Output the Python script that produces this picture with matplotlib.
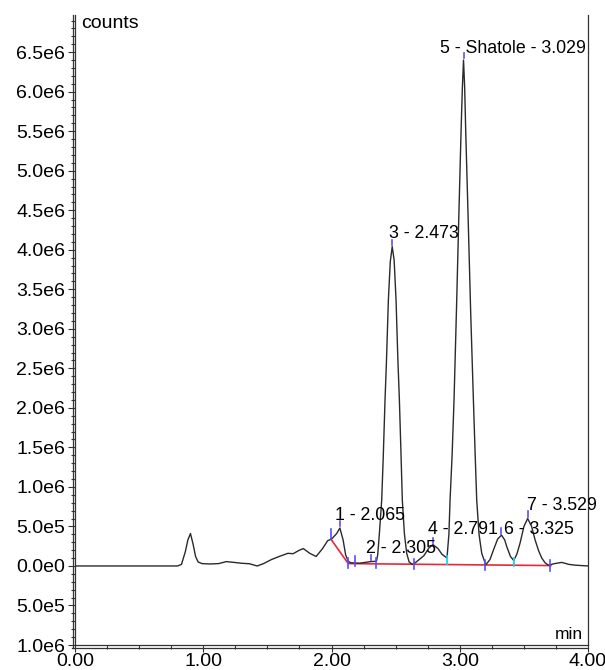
import numpy as np
import matplotlib
matplotlib.use("Agg")
import matplotlib.pyplot as plt
from matplotlib.ticker import MultipleLocator, FuncFormatter
from matplotlib.transforms import offset_copy
from matplotlib.lines import Line2D

plt.rcParams["font.family"] = ["Liberation Sans", "DejaVu Sans"]

# -----------------------------
# Chromatogram trace (min, counts)
# -----------------------------
time = [
    0.00, 0.50, 0.80, 0.83, 0.86, 0.88, 0.90, 0.92, 0.94, 0.96, 0.99,
    1.05, 1.12, 1.18, 1.24, 1.30, 1.36, 1.42, 1.47, 1.53, 1.60, 1.66,
    1.70, 1.75, 1.78, 1.83, 1.88, 1.93, 1.97, 2.00, 2.04, 2.065, 2.09,
    2.11, 2.13, 2.15, 2.22, 2.305, 2.35,
    2.36, 2.373, 2.391, 2.403, 2.417, 2.428, 2.443, 2.458, 2.473, 2.488,
    2.503, 2.517, 2.529, 2.541, 2.552, 2.568, 2.586, 2.605, 2.63,
    2.66, 2.72, 2.76, 2.791, 2.83, 2.86, 2.90,
    2.915, 2.924, 2.94, 2.955, 2.975, 2.992, 3.010, 3.020, 3.029, 3.038,
    3.046, 3.065, 3.085, 3.106, 3.12, 3.132, 3.15, 3.171, 3.197, 3.20,
    3.235, 3.262, 3.295, 3.325, 3.35, 3.367, 3.395, 3.42, 3.445, 3.47,
    3.50, 3.529, 3.56, 3.587, 3.615, 3.639, 3.665, 3.69, 3.74, 3.795,
    3.85, 3.90, 4.00,
]
counts = [
    0.0, 0.0, 0.0, 0.02e6, 0.18e6, 0.33e6, 0.41e6, 0.28e6, 0.12e6, 0.05e6, 0.03e6,
    0.025e6, 0.03e6, 0.055e6, 0.045e6, 0.034e6, 0.028e6, 0.0, 0.03e6, 0.08e6, 0.125e6, 0.16e6,
    0.155e6, 0.20e6, 0.22e6, 0.16e6, 0.12e6, 0.22e6, 0.32e6, 0.34e6, 0.41e6, 0.48e6, 0.33e6,
    0.14e6, 0.06e6, 0.04e6, 0.035e6, 0.055e6, 0.06e6,
    0.14e6, 0.41e6, 0.83e6, 1.37e6, 2.10e6, 2.58e6, 3.36e6, 3.85e6, 4.04e6, 3.87e6,
    3.36e6, 2.62e6, 2.10e6, 1.45e6, 0.83e6, 0.41e6, 0.16e6, 0.05e6, 0.02e6,
    0.05e6, 0.13e6, 0.23e6, 0.27e6, 0.22e6, 0.15e6, 0.10e6,
    0.40e6, 0.83e6, 1.40e6, 2.10e6, 3.30e6, 4.40e6, 5.51e6, 6.05e6, 6.40e6, 6.05e6,
    5.51e6, 4.40e6, 3.20e6, 2.10e6, 1.40e6, 0.83e6, 0.40e6, 0.16e6, 0.04e6, 0.01e6,
    0.08e6, 0.20e6, 0.34e6, 0.39e6, 0.33e6, 0.24e6, 0.12e6, 0.07e6, 0.15e6, 0.29e6,
    0.50e6, 0.60e6, 0.50e6, 0.33e6, 0.19e6, 0.10e6, 0.04e6, 0.01e6, 0.03e6, 0.045e6,
    0.02e6, 0.01e6, 0.0,
]

# integration baseline (red)
base_t = [1.995, 2.13, 3.71]
base_c = [0.34e6, 0.03e6, 0.005e6]

# peak apexes and labels
peak_t = [2.065, 2.305, 2.473, 2.791, 3.029, 3.325, 3.529]
peak_c = [0.48e6, 0.055e6, 4.04e6, 0.27e6, 6.40e6, 0.39e6, 0.60e6]
peak_labels = ["1 - 2.065", "2 - 2.305", "3 - 2.473", "4 - 2.791",
               "5 - Shatole - 3.029", "6 - 3.325", "7 - 3.529"]

# peak boundary marks
bound_t = [1.995, 2.13, 2.18, 2.35, 2.64, 3.20, 3.70]
bound_c = [0.40e6, 0.03e6, 0.06e6, 0.03e6, 0.02e6, 0.01e6, 0.0]
drop_t = [2.90, 3.42]
drop_c = [0.04e6, 0.02e6]

# label offsets in points (dx, dy)
label_off = [(-3.5, 5.5), (-3, 6.5), (-2.5, 6.5), (-3.5, 7.5),
             (-17, 5), (2, 1), (-0.7, 6)]

# -----------------------------
# Plot
# -----------------------------
fig = plt.figure(figsize=(6.05, 6.7), dpi=100)
ax = fig.add_axes([0.124, 0.0373, 0.848, 0.9403])

ax.plot(time, counts, color="#2a2a2a", linewidth=1.0, zorder=3)
ax.plot(base_t, base_c, color="#e8283a", linewidth=1.2, zorder=2)

tick_col = "#5a4dff"
# boundary ticks straddle the trace
for t, c in zip(bound_t, bound_c):
    ax.plot([t, t], [c - 0.06e6, c + 0.07e6], color=tick_col, linewidth=1.2, zorder=4)
for t, c in zip(drop_t, drop_c):
    ax.plot([t, t], [c - 0.02e6, c + 0.08e6], color="#19d3e8", linewidth=1.3, zorder=4)
# apex ticks
for t, c in zip(peak_t, peak_c):
    ax.plot([t, t], [c + 0.02e6, c + 0.09e6], color=tick_col, linewidth=1.2, zorder=4)

for t, c, lab, (dx, dy) in zip(peak_t, peak_c, peak_labels, label_off):
    ax.annotate(lab, xy=(t, c), xytext=(dx, dy), textcoords="offset points",
                ha="left", va="baseline", fontsize=12.8, color="black",
                annotation_clip=False, zorder=5)

# -----------------------------
# Axes formatting
# -----------------------------
ax.set_xlim(0, 4)
ax.set_ylim(-1.0e6, 6.97e6)

ax.xaxis.set_major_locator(MultipleLocator(1.0))
ax.xaxis.set_minor_locator(MultipleLocator(0.25))
ax.xaxis.set_major_formatter(FuncFormatter(lambda v, p: f"{v:.2f}"))
ax.yaxis.set_major_locator(MultipleLocator(5e5))
ax.yaxis.set_minor_locator(MultipleLocator(1e5))


def sci_label(v, pos):
    v = abs(v)
    if v < 1:
        return "0.0e0"
    e = int(np.floor(np.log10(v) + 1e-9))
    return f"{v / 10 ** e:.1f}e{e}"


ax.yaxis.set_major_formatter(FuncFormatter(sci_label))

ax.tick_params(axis="both", which="major", labelsize=14, length=5, width=0.8,
               direction="out", color="#333333", pad=2)
ax.tick_params(axis="both", which="minor", length=3, width=0.8,
               direction="out", color="#333333")
ax.tick_params(axis="x", which="major", pad=1)

ax.spines["top"].set_visible(False)
for s in ["left", "bottom", "right"]:
    ax.spines[s].set_color("#333333")
    ax.spines[s].set_linewidth(0.9)

# second (outer) line of the double frame
tr_left = offset_copy(ax.transAxes, fig=fig, x=-2.5, y=0, units="dots")
tr_bot = offset_copy(ax.transAxes, fig=fig, x=0, y=-2.5, units="dots")
ax.add_line(Line2D([0, 0], [-0.004, 1], transform=tr_left, color="#333333",
                   linewidth=0.9, clip_on=False))
ax.add_line(Line2D([-0.005, 1], [0, 0], transform=tr_bot, color="#333333",
                   linewidth=0.9, clip_on=False))

ax.text(0.011, 0.979, "counts", transform=ax.transAxes, fontsize=14,
        ha="left", va="baseline")
ax.text(0.99, 0.009, "min", transform=ax.transAxes, fontsize=12.5,
        ha="right", va="baseline")

fig.savefig("out.png", dpi=100)
